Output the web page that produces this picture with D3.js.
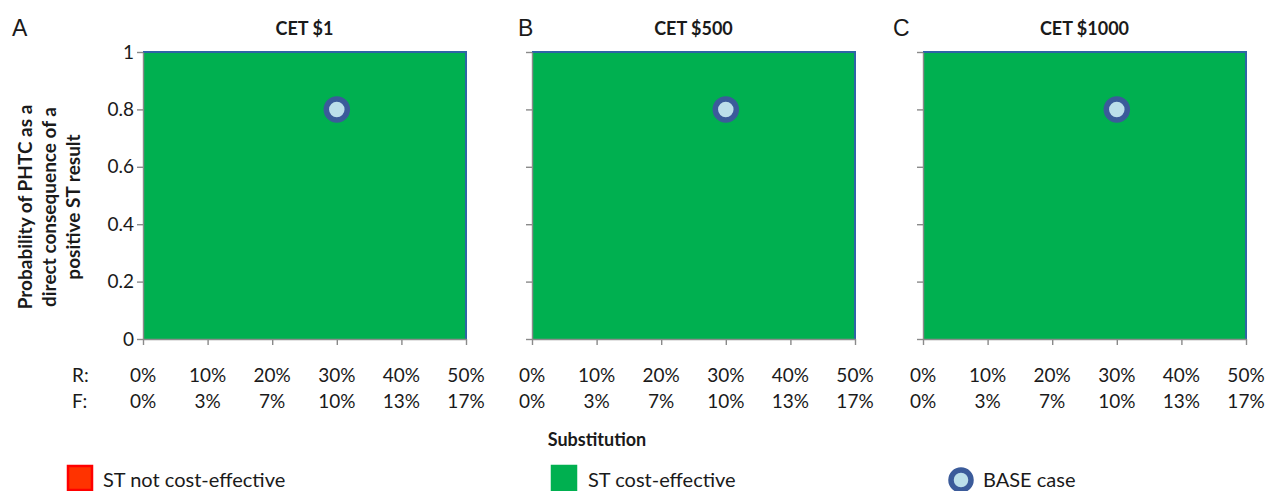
<!DOCTYPE html>
<html>
<head>
<meta charset="utf-8">
<script src="https://cdn.jsdelivr.net/npm/d3@7"></script>
<style>
  body { margin: 0; background: #fff; }
  text { font-family: Lato, "Open Sans", sans-serif; fill: #1a1a1a; }
</style>
</head>
<body>
<div class="chart"></div>
<script>
// panel data
const panelLetters = ["A", "B", "C"]
const panelTitles = ["CET $1", "CET $500", "CET $1000"]
const rTicks = [0, 10, 20, 30, 40, 50]
const fLabels = ["0%", "3%", "7%", "10%", "13%", "17%"]
const yTicks = [0, 0.2, 0.4, 0.6, 0.8, 1]
// upper limit of the cost-effective region at each R tick (1 = whole range)
const thresholdA = [1, 1, 1, 1, 1, 1]
const thresholdB = [1, 1, 1, 1, 1, 1]
const thresholdC = [1, 1, 1, 1, 1, 1]
const baseCase = { r: 30, p: 0.8 }
const legendLabels = ["ST not cost-effective", "ST cost-effective", "BASE case"]

const thresholds = [thresholdA, thresholdB, thresholdC]

const config = {
  width: 1272,
  height: 491,
  panelLeft: [143, 532, 923],
  letterX: [12, 518, 893],
  panelWidth: 323,
  top: 52,
  bottom: 339,
  green: "#00b050",
  red: "#ff3300",
  blue: "#2e64a6",
  axis: "#8a8a8a",
}

const svg = d3.select(".chart")
  .append("svg")
  .attr("width", config.width)
  .attr("height", config.height)

const scaleY = d3.scaleLinear().domain([0, 1]).range([config.bottom, config.top])

panelLetters.forEach((letter, i) => {
  const left = config.panelLeft[i]
  const scaleX = d3.scaleLinear().domain([0, 50]).range([left, left + config.panelWidth])
  const pts = rTicks.map((r, j) => ({ r: r, t: thresholds[i][j] }))
  const g = svg.append("g")

  // not cost-effective region (above threshold)
  g.append("path")
    .datum(pts)
    .attr("fill", config.red)
    .attr("d", d3.area().x((d) => scaleX(d.r)).y0(scaleY(1)).y1((d) => scaleY(d.t)))

  // cost-effective region
  g.append("path")
    .datum(pts)
    .attr("fill", config.green)
    .attr("d", d3.area().x((d) => scaleX(d.r)).y0(scaleY(0)).y1((d) => scaleY(d.t)))

  // series border: top and right edge
  g.append("path")
    .datum(pts.concat([{ r: 50, t: 0 }]))
    .attr("fill", "none")
    .attr("stroke", config.blue)
    .attr("stroke-width", 2)
    .attr("d", d3.line().x((d) => scaleX(d.r)).y((d) => scaleY(d.t)))

  // axes
  const yAxis = g.append("g")
    .attr("transform", `translate(${left},0)`)
    .call(d3.axisLeft(scaleY).tickValues(yTicks).tickSize(6).tickSizeOuter(0).tickPadding(3)
      .tickFormat((d) => (i === 0 ? String(d) : "")))
  yAxis.selectAll("text").attr("font-size", 19).attr("font-family", "Lato").attr("fill", "#1a1a1a")

  const xAxis = g.append("g")
    .attr("transform", `translate(0,${config.bottom})`)
    .call(d3.axisBottom(scaleX).tickValues(rTicks).tickSize(6).tickSizeOuter(0).tickFormat(""))

  ;[yAxis, xAxis].forEach((ax) => {
    ax.select(".domain").attr("stroke", config.axis).attr("stroke-width", 1.4)
    ax.selectAll(".tick line").attr("stroke", config.axis).attr("stroke-width", 1.4)
  })

  // two rows of x labels: R and F
  g.selectAll(".rlab")
    .data(rTicks)
    .join("text")
    .attr("x", (d) => scaleX(d))
    .attr("y", 382)
    .attr("text-anchor", "middle")
    .attr("font-size", 19)
    .text((d) => d + "%")

  g.selectAll(".flab")
    .data(fLabels)
    .join("text")
    .attr("x", (d, j) => scaleX(rTicks[j]))
    .attr("y", 408)
    .attr("text-anchor", "middle")
    .attr("font-size", 19)
    .text((d) => d)

  // base case marker
  g.append("circle")
    .attr("cx", scaleX(baseCase.r))
    .attr("cy", scaleY(baseCase.p))
    .attr("r", 10.5)
    .attr("fill", "#bcdfea")
    .attr("stroke", "#3b5b9a")
    .attr("stroke-width", 5.5)

  // title and panel letter
  g.append("text")
    .attr("x", left + config.panelWidth / 2)
    .attr("y", 35)
    .attr("text-anchor", "middle")
    .attr("font-size", 18)
    .attr("font-weight", "bold")
    .text(panelTitles[i])

  g.append("text")
    .attr("x", config.letterX[i])
    .attr("y", 36)
    .attr("font-size", 23)
    .style("font-family", "'Liberation Sans', Arial, sans-serif")
    .text(letter)
})

// R: / F: row labels
svg.append("text").attr("x", 72).attr("y", 382).attr("font-size", 19).text("R:")
svg.append("text").attr("x", 72).attr("y", 408).attr("font-size", 19).text("F:")

// y axis title
const yTitle = ["Probability of PHTC as a", "direct consequence of a", "positive ST result"]
svg.selectAll(".ytitle")
  .data(yTitle)
  .join("text")
  .attr("transform", (d, i) => `translate(${32 + i * 24},207) rotate(-90)`)
  .attr("text-anchor", "middle")
  .attr("font-size", 19)
  .attr("font-weight", "bold")
  .text((d) => d)

// x axis title
svg.append("text")
  .attr("x", 597)
  .attr("y", 446)
  .attr("text-anchor", "middle")
  .attr("font-size", 18)
  .attr("font-weight", "bold")
  .text("Substitution")

// legend
const legend = svg.append("g")
legend.append("rect")
  .attr("x", 68).attr("y", 466).attr("width", 24).attr("height", 24)
  .attr("fill", config.red).attr("stroke", "#ff0000").attr("stroke-width", 2.5)
legend.append("text").attr("x", 103).attr("y", 487).attr("font-size", 20).text(legendLabels[0])

legend.append("rect")
  .attr("x", 552).attr("y", 466).attr("width", 24).attr("height", 24)
  .attr("fill", config.green).attr("stroke", config.green).attr("stroke-width", 2.5)
legend.append("text").attr("x", 588).attr("y", 487).attr("font-size", 20).text(legendLabels[1])

legend.append("circle")
  .attr("cx", 961).attr("cy", 480).attr("r", 10)
  .attr("fill", "#bcdfea").attr("stroke", "#3b5b9a").attr("stroke-width", 5.5)
legend.append("text").attr("x", 983).attr("y", 487).attr("font-size", 20).text(legendLabels[2])
</script>
</body>
</html>
